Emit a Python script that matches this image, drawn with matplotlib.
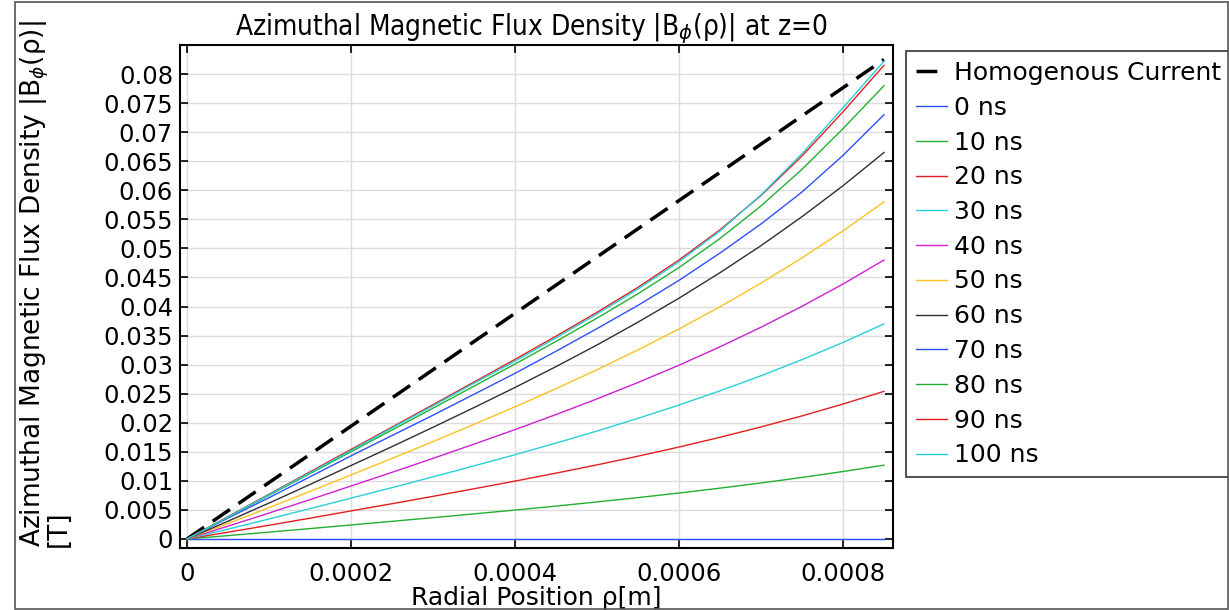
import matplotlib
matplotlib.use("Agg")
import matplotlib.pyplot as plt
from matplotlib.patches import Rectangle
from matplotlib.ticker import FuncFormatter

# radial positions (m)
rho = [0, 0.00005, 0.0001, 0.00015, 0.0002, 0.00025, 0.0003, 0.00035, 0.0004,
       0.00045, 0.0005, 0.00055, 0.0006, 0.00065, 0.0007, 0.00075, 0.0008, 0.00085]

# homogeneous current reference (T), straight line
rho_h = [0, 0.00085]
homog = [0, 0.0825]

# |B_phi| at each time step (T)
b_0 = [0] * 18
b_10 = [0, 0.00058, 0.00118, 0.00179, 0.00241, 0.00304, 0.00367, 0.00432, 0.00498,
        0.00566, 0.00638, 0.00712, 0.00791, 0.00875, 0.00964, 0.01059, 0.01161, 0.0127]
b_20 = [0, 0.00117, 0.00236, 0.00358, 0.00483, 0.00607, 0.00734, 0.00864, 0.00996,
        0.01133, 0.01275, 0.01425, 0.01582, 0.01750, 0.01928, 0.02118, 0.02322, 0.0254]
b_30 = [0, 0.0017, 0.00344, 0.00522, 0.00703, 0.00884, 0.01069, 0.01258, 0.0145,
        0.0165, 0.01857, 0.02076, 0.02305, 0.02549, 0.02808, 0.03086, 0.03382, 0.037]
b_40 = [0, 0.00221, 0.00446, 0.00677, 0.00912, 0.01147, 0.01387, 0.01632, 0.01882,
        0.02141, 0.0241, 0.02693, 0.0299, 0.03307, 0.03643, 0.04003, 0.04387, 0.048]
b_50 = [0, 0.00267, 0.00539, 0.00818, 0.01102, 0.01386, 0.01676, 0.01972, 0.02274,
        0.02587, 0.02912, 0.03254, 0.03613, 0.03996, 0.04402, 0.04837, 0.05301, 0.058]
b_60 = [0, 0.00306, 0.00618, 0.00938, 0.01264, 0.01589, 0.01922, 0.02261, 0.02607,
        0.02966, 0.03338, 0.03731, 0.04143, 0.04582, 0.05047, 0.05546, 0.06078, 0.0665]
b_70 = [0, 0.0036, 0.0071, 0.0107, 0.0143, 0.0178, 0.0213, 0.0249, 0.0285,
        0.0323, 0.0362, 0.0402, 0.0445, 0.0492, 0.0542, 0.0597, 0.0660, 0.0730]
b_80 = [0, 0.00375, 0.0075, 0.01125, 0.0150, 0.01875, 0.0225, 0.0263, 0.0301,
        0.0340, 0.0380, 0.0422, 0.0467, 0.0517, 0.0573, 0.0636, 0.0706, 0.0780]
b_90 = [0, 0.00385, 0.0077, 0.01155, 0.0154, 0.01925, 0.0231, 0.0270, 0.0309,
        0.0349, 0.0390, 0.0433, 0.0480, 0.0532, 0.0591, 0.0659, 0.0735, 0.0815]
b_100 = [0, 0.0038, 0.0076, 0.0114, 0.0152, 0.0191, 0.0229, 0.0268, 0.0306,
         0.0346, 0.0387, 0.0430, 0.0477, 0.0530, 0.0592, 0.0663, 0.0742, 0.0822]

times = ["0 ns", "10 ns", "20 ns", "30 ns", "40 ns", "50 ns",
         "60 ns", "70 ns", "80 ns", "90 ns", "100 ns"]
curves = [b_0, b_10, b_20, b_30, b_40, b_50, b_60, b_70, b_80, b_90, b_100]

# comsol-like colour cycle
cycle = ["#2f4fff", "#22b033", "#e02020", "#28d0d8", "#d020d0", "#ffc020", "#303030"]

plt.rcParams['font.family'] = ['DejaVu Sans']
fs = 17.5

fig = plt.figure(figsize=(12.29, 6.10), dpi=100)
ax = fig.add_axes([180/1229, 1 - 548/610, (893 - 180)/1229, (548 - 45)/610])

ax.plot(rho_h, homog, color="black", lw=2.5, dashes=(6, 3), label="Homogenous Current")
for i, (lab, b) in enumerate(zip(times, curves)):
    ax.plot(rho, b, color=cycle[i % len(cycle)], lw=1.0, label=lab)

ax.set_xlim(-0.0000085, 0.000861)
ax.set_ylim(-0.00155, 0.0850)
ax.set_xticks([0, 0.0002, 0.0004, 0.0006, 0.0008])
ax.set_yticks([i * 0.005 for i in range(17)])
fmt = FuncFormatter(lambda v, p: "0" if abs(v) < 1e-12 else ("%.4f" % v).rstrip("0"))
ax.xaxis.set_major_formatter(fmt)
ax.yaxis.set_major_formatter(fmt)
ax.tick_params(direction="in", length=6, width=1.2, labelsize=fs, top=True, right=True, pad=5)
ax.tick_params(axis="x", pad=10)
ax.grid(True, color="#dcdcdc", lw=1)
ax.set_axisbelow(True)
for s in ax.spines.values():
    s.set_linewidth(1.5)

ax.set_title(r"Azimuthal Magnetic Flux Density |B$_\phi$(ρ)| at z=0", fontsize=20,
             fontstretch="condensed", pad=7, x=(531.5 - 180) / 713)
ax.set_xlabel("Radial Position ρ[m]", fontsize=18, labelpad=0)
ax.set_ylabel("Azimuthal Magnetic Flux Density |B$_\\phi$(ρ)|\n[T]", fontsize=19,
              multialignment="left", linespacing=0.75)
ax.yaxis.set_label_coords((72 - 180) / 713, 0.525)

leg = ax.legend(loc="upper left", bbox_to_anchor=(906/1229, 1 - 51/610),
                bbox_transform=fig.transFigure, fontsize=18, frameon=True,
                fancybox=False, edgecolor="black", handlelength=1.25,
                handletextpad=0.25, labelspacing=0.43, borderpad=0.4, borderaxespad=0)
leg.get_frame().set_linewidth(1.2)

# outer frame of the exported picture
fig.patches.append(Rectangle((15/1229, 0.002), 1 - 16/1229, 0.995, transform=fig.transFigure,
                             fill=False, edgecolor="#555555", lw=1.2))

fig.savefig("out.png", dpi=100)
